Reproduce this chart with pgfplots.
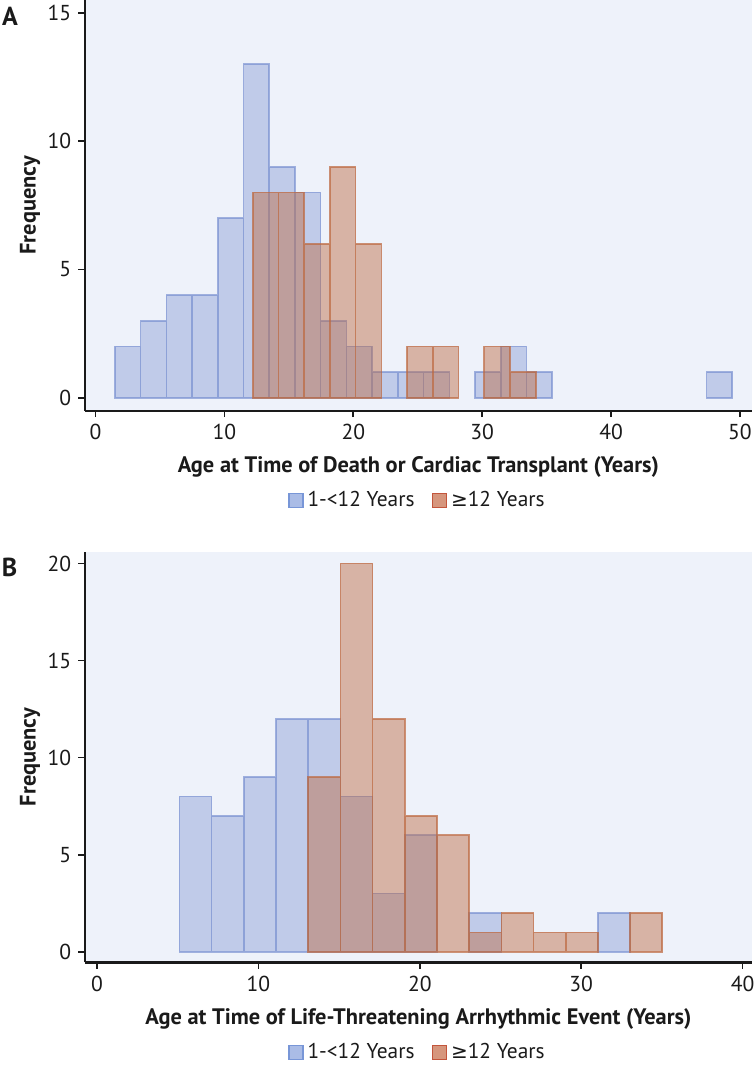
\documentclass[border=0pt]{standalone}
\usepackage{fontspec}
\setmainfont{PT Sans}
\newfontfamily\symfont{DejaVu Sans}
\usepackage{pgfplots}
\pgfplotsset{compat=1.18}
\definecolor{bgc}{RGB}{238,242,250}
\definecolor{bluebase}{RGB}{107,133,204}
\definecolor{redbase}{RGB}{189,104,63}
\definecolor{txt}{RGB}{26,26,26}
\definecolor{legblue}{RGB}{170,188,230}
\definecolor{legblueedge}{RGB}{120,150,215}
\definecolor{legred}{RGB}{214,150,125}
\definecolor{legrededge}{RGB}{195,85,60}
\pgfplotsset{
  histax/.style={
    scale only axis, width=333.8pt, height=205.3pt,
    axis x line=bottom, axis y line=left,
    axis line style={-, line width=1.1pt, color=txt},
    tick align=outside, major tick length=3.2pt,
    every tick/.style={line width=0.9pt, color=txt},
    axis background/.style={fill=bgc},
    tick label style={font=\fontsize{10.8}{12}\selectfont, color=txt},
    /pgf/number format/assume math mode=true,
    label style={font=\bfseries\fontsize{11.2}{13}\selectfont, color=txt},
    ylabel style={at={(axis description cs:-0.0818,0.5)}, anchor=center, rotate=0},
    xlabel style={at={(axis description cs:0.5,0)}, anchor=base, yshift=-30.8pt},
    legend style={draw=none, fill=none, at={(axis description cs:0.5,0)}, anchor=center, yshift=-45pt,
      font=\fontsize{10.7}{12}\selectfont, text=txt,
      /tikz/every even column/.append style={column sep=6.5pt}},
    legend columns=2,
    ytick={0,5,...,20},
  },
  bluebar/.style={ybar, bar shift=0pt, fill=bluebase, fill opacity=0.35, draw=bluebase, draw opacity=0.6, line width=0.8pt,
    legend image code/.code={\draw[fill=legblue, draw=legblueedge, line width=0.7pt, fill opacity=1, draw opacity=1] (0pt,-3.5pt) rectangle (7pt,3.5pt);}},
  redbar/.style={ybar, bar shift=0pt, fill=redbase, fill opacity=0.45, draw=redbase, draw opacity=0.7, line width=0.8pt,
    legend image code/.code={\draw[fill=legred, draw=legrededge, line width=0.7pt, fill opacity=1, draw opacity=1] (0pt,-3.5pt) rectangle (7pt,3.5pt);}},
}
\begin{document}
\begin{tikzpicture}
\useasboundingbox (0,0) rectangle (377.5pt,-532.5pt);
% Panel A
\begin{axis}[histax, at={(42.3pt,-205.3pt)}, anchor=south west,
  xmin=-0.85, xmax=50.95, ymin=-0.5, ymax=15.5,
  xtick={0,10,...,50},
  xlabel={Age at Time of Death or Cardiac Transplant (Years)},
  ylabel={Frequency}]
\addplot[bluebar, bar width=1.996] coordinates {
(2.498,2) (4.494,3) (6.490,4) (8.486,4) (10.482,7) (12.478,13) (14.474,9) (16.470,8)
(18.466,3) (20.462,2) (22.458,1) (24.454,1) (26.450,1) (30.442,1) (32.438,2) (34.434,1) (48.406,1)};
\addlegendentry{1-<12 Years}
\addplot[redbar, bar width=1.996] coordinates {
(13.20,8) (15.19,8) (17.19,6) (19.18,9) (21.18,6) (25.17,2) (27.17,2) (31.16,2) (33.16,1)};
\addlegendentry{{\symfont\fontsize{10}{12}\selectfont ≥}12 Years}
\end{axis}
% Panel B
\begin{axis}[histax, at={(42.3pt,-481.2pt)}, anchor=south west,
  xmin=-0.77, xmax=40.6, ymin=-0.55, ymax=20.6,
  xtick={0,10,...,40},
  xlabel={Age at Time of Life-Threatening Arrhythmic Event (Years)},
  ylabel={Frequency}]
\addplot[bluebar, bar width=1.995] coordinates {
(6.10,8) (8.09,7) (10.09,9) (12.09,12) (14.08,12) (16.08,8) (18.07,3) (20.07,6) (24.06,2) (32.04,2)};
\addlegendentry{1-<12 Years}
\addplot[redbar, bar width=1.995] coordinates {
(14.08,9) (16.08,20) (18.07,12) (20.07,7) (22.06,6) (24.06,1) (26.05,2) (28.05,1) (30.04,1) (34.03,2)};
\addlegendentry{{\symfont\fontsize{10}{12}\selectfont ≥}12 Years}
\end{axis}
\node[font=\bfseries\fontsize{13}{14}\selectfont, text=txt] at (5pt,-8pt) {A};
\node[font=\bfseries\fontsize{13}{14}\selectfont, text=txt] at (4.75pt,-283.75pt) {B};
\end{tikzpicture}
\end{document}
